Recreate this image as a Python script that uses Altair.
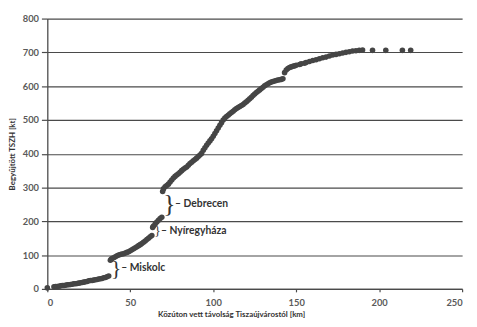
import altair as alt
import pandas as pd

# Distance from Tiszaújváros [km] and cumulative collected TSZH [kt]
dist_km = [
    0, 4, 5, 6, 7, 8, 9, 10, 11, 12, 13, 14, 15, 16, 17, 18, 19, 20, 21, 22, 23, 24,
    25, 26, 27, 28, 29, 30, 31, 32, 33, 34, 35, 36, 37,
    38, 38.5, 39, 40, 41, 42, 43, 44, 45, 46, 47, 48, 49, 50, 51, 52, 53, 54, 55,
    56, 57, 58, 59, 60, 61, 62, 63,
    63.5, 64, 65, 66, 67, 68, 69,
    69.5, 70, 71, 72, 73, 74, 75, 76, 77, 78, 79, 80, 81, 82, 83, 84, 85, 86, 87,
    88, 89, 90, 91, 92, 93, 94, 95, 96, 97, 98, 99, 100, 101, 102, 103, 104, 105,
    106, 107, 108, 109, 110, 111, 112, 113, 114, 115, 116, 117, 118, 119, 120, 121,
    122, 123, 124, 125, 126, 127, 128, 129, 130, 131, 132, 133, 134, 135, 136, 137,
    138, 139, 140, 141, 142,
    143, 144, 145, 146, 147, 148, 149, 150, 152, 153, 155, 156, 158, 160, 162, 164,
    166, 168, 170, 172, 174, 176, 178, 180, 182, 184, 186, 188, 190,
    196, 204, 214, 219,
]
tszh_kt = [
    3, 6, 7, 7, 8, 9, 10, 10, 11, 12, 12, 13, 14, 15, 15, 16, 17, 18, 19, 20, 21, 22,
    24, 25, 25, 26, 27, 28, 29, 30, 31, 33, 34, 36, 38,
    85, 88, 90, 92, 95, 98, 100, 102, 103, 104, 106, 108, 110, 113, 116, 119, 122,
    125, 128, 131, 134, 138, 142, 146, 150, 154, 158,
    182, 186, 192, 198, 203, 208, 212,
    288, 296, 302, 306, 310, 316, 322, 328, 333, 337, 341, 345, 350, 354, 358, 361,
    366, 371, 375, 379, 383, 387, 392, 396, 401, 410, 418, 425, 432, 438, 444, 452,
    460, 468, 476, 484, 492, 500, 506, 510, 514, 518, 522, 526, 530, 534, 537, 540,
    543, 546, 550, 554, 558, 563, 567, 572, 577, 581, 585, 589, 593, 597, 601, 604,
    607, 610, 612, 614, 615, 617, 618, 619, 620, 622,
    640, 648, 652, 655, 657, 659, 660, 662, 664, 666, 668, 670, 673, 676, 678, 681,
    684, 686, 689, 692, 694, 696, 698, 700, 702, 704, 705, 706, 707,
    706, 706, 706, 706,
]

x_ticks = [0, 50, 100, 150, 200, 250]
y_ticks = [0, 100, 200, 300, 400, 500, 600, 700, 800]

# City annotations
city_names = ["– Miskolc", "– Nyíregyháza", "– Debrecen"]
brace_x = [41.5, 66.5, 73.5]
brace_y = [61, 171, 250]
brace_size = [22, 13, 26]
label_x = [44.5, 68.5, 77.0]

df = pd.DataFrame({"dist": dist_km, "tszh": tszh_kt})
ann = pd.DataFrame({
    "name": city_names, "bx": brace_x, "by": brace_y, "bs": brace_size, "lx": label_x,
})

x_scale = alt.Scale(domain=[0, 250], nice=False, zero=True)
y_scale = alt.Scale(domain=[0, 800], nice=False)

x_axis = alt.Axis(title="Közúton vett távolság Tiszaújvárostól [km]",
                  values=x_ticks, grid=False, labelOverlap=False,
                  titleX=187, titleY=22, titleBaseline="top")
y_axis = alt.Axis(title="Begyűjtött TSZH [kt]", values=y_ticks,
                  labelOverlap=False, grid=True, titleX=-35, titleBaseline="middle")

points = alt.Chart(df).mark_circle(size=32, color="#454545", opacity=1).encode(
    x=alt.X("dist:Q", scale=x_scale, axis=x_axis),
    y=alt.Y("tszh:Q", scale=y_scale, axis=y_axis),
)

braces = alt.Chart(ann).mark_text(
    text="}", font="Liberation Sans Narrow", color="#333333", baseline="middle", align="center"
).encode(
    x=alt.X("bx:Q", scale=x_scale, axis=x_axis),
    y=alt.Y("by:Q", scale=y_scale, axis=y_axis),
    size=alt.Size("bs:Q", scale=None, legend=None),
)

labels = alt.Chart(ann).mark_text(
    font="Lato", fontWeight="bold", fontSize=10.5, color="#333333",
    align="left", baseline="middle"
).encode(
    x=alt.X("lx:Q", scale=x_scale, axis=x_axis),
    y=alt.Y("by:Q", scale=y_scale, axis=y_axis),
    text="name:N",
)

chart = alt.layer(points, braces, labels).properties(
    width=422, height=275,
    autosize=alt.AutoSizeParams(type="none"),
    padding={"left": 40, "top": 8, "right": 7, "bottom": 36},
).configure_view(stroke=None).configure_axis(
    labelFont="Lato", labelFontWeight="bold", labelFontSize=9.5, labelColor="#5a5a5a",
    titleFont="Lato", titleFontWeight="bold", titleFontSize=8, titleColor="#333333",
    domainColor="#4a4a4a", domainWidth=1.3, tickColor="#4a4a4a", tickWidth=1.2,
    gridColor="#4a4a4a", gridWidth=1.2, gridOpacity=1,
).configure_axisY(
    tickSize=6, labelPadding=3,
).configure_axisX(
    tickSize=3, labelPadding=6,
)

chart.save("out.html", embed_options={"renderer": "svg", "actions": False})
